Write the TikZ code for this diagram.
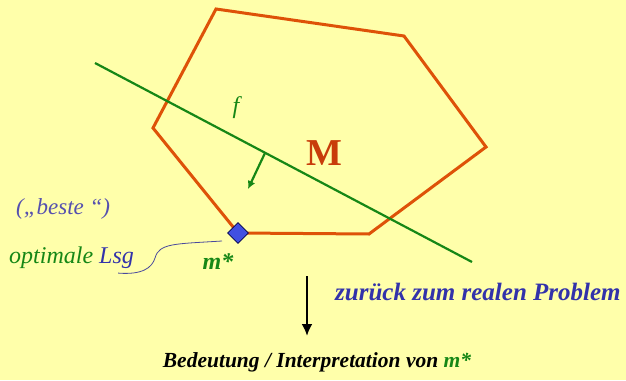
\documentclass[tikz,border=0pt]{standalone}
\usepackage{fontspec}
\setmainfont{Liberation Serif}
\usetikzlibrary{arrows.meta,positioning,shapes.geometric}

\definecolor{bgyellow}{RGB}{255,255,170}
\definecolor{setorange}{RGB}{222,82,8}
\definecolor{setred}{RGB}{200,60,10}
\definecolor{fgreen}{RGB}{22,135,22}
\definecolor{txtblue}{RGB}{50,50,170}
\definecolor{lightblue}{RGB}{85,80,175}
\definecolor{optblue}{RGB}{65,80,225}

\begin{document}
\begin{tikzpicture}[
  x=1pt,y=-1pt,
  setedge/.style={draw=setorange,line width=3pt,line join=miter},
  goal/.style={draw=fgreen,line width=2.2pt},
  lbl/.style={inner sep=0pt,font=\fontsize{23}{26}\selectfont\itshape},
  bold lbl/.style={lbl,font=\fontsize{22}{26}\selectfont\bfseries\itshape},
  optimum/.style={diamond,draw=black!70!blue,fill=optblue,line width=0.7pt,inner sep=0pt,minimum size=21pt}
]
\useasboundingbox[fill=bgyellow] (0,0) rectangle (626,380);

% feasible set M
\coordinate (p1) at (216,9);
\coordinate (p2) at (404,36);
\coordinate (p3) at (486,147);
\coordinate (p4) at (369,234);
\coordinate (p5) at (238,233);
\coordinate (p6) at (153,128);
\draw[setedge] (p1) -- (p2) -- (p3) -- (p4) -- (p5) -- (p6) -- cycle;
\node[text=setred,inner sep=0pt,font=\fontsize{38}{40}\selectfont\bfseries] (M) at (324,153) {M};

% objective f
\coordinate (f1) at (95,63);
\coordinate (f2) at (472,262);
\draw[goal] (f1) -- (f2);
\node[lbl,text=fgreen,font=\fontsize{24}{26}\selectfont\itshape] (f) at (236,108) {f};
\coordinate (fn) at (265,153);
\coordinate (fd) at (248,189);
\draw[goal,-{Latex[length=8pt,width=8pt]}] (fn) -- (fd);

% optimum
\node[optimum] (opt) at (p5) {};
\node[bold lbl,text=fgreen,font=\fontsize{24}{26}\selectfont\bfseries\itshape] (mstar) at (218,262) {m*};
\node[lbl,text=lightblue,anchor=west] (beste) at (16,209) {(„beste “)};
\node[lbl,font=\fontsize{24}{26}\selectfont\itshape,anchor=west] (optlsg) at (9,258) {\textcolor{fgreen}{optimale} \textcolor{txtblue}{Lsg}};
\draw[txtblue!70!gray,line width=0.8pt] ([xshift=-16pt,yshift=-4pt]optlsg.south east)
  .. controls (142,275) and (152,268) .. (155,258)
  .. controls (159,243) and (175,244) .. (222,241);

% back to the real problem
\coordinate (down1) at (307,276);
\coordinate (down2) at (307,336);
\draw[line width=2.4pt,-{Latex[length=12pt,width=11pt]}] (down1) -- (down2);
\node[bold lbl,text=txtblue,font=\fontsize{25}{28}\selectfont\bfseries\itshape,anchor=west] (real) at (335,292) {zurück zum realen Problem};
\node[bold lbl,font=\fontsize{21.5}{26}\selectfont\bfseries\itshape] (meaning) at (317,362) {Bedeutung / Interpretation von \textcolor{fgreen}{m*}};
\end{tikzpicture}
\end{document}
